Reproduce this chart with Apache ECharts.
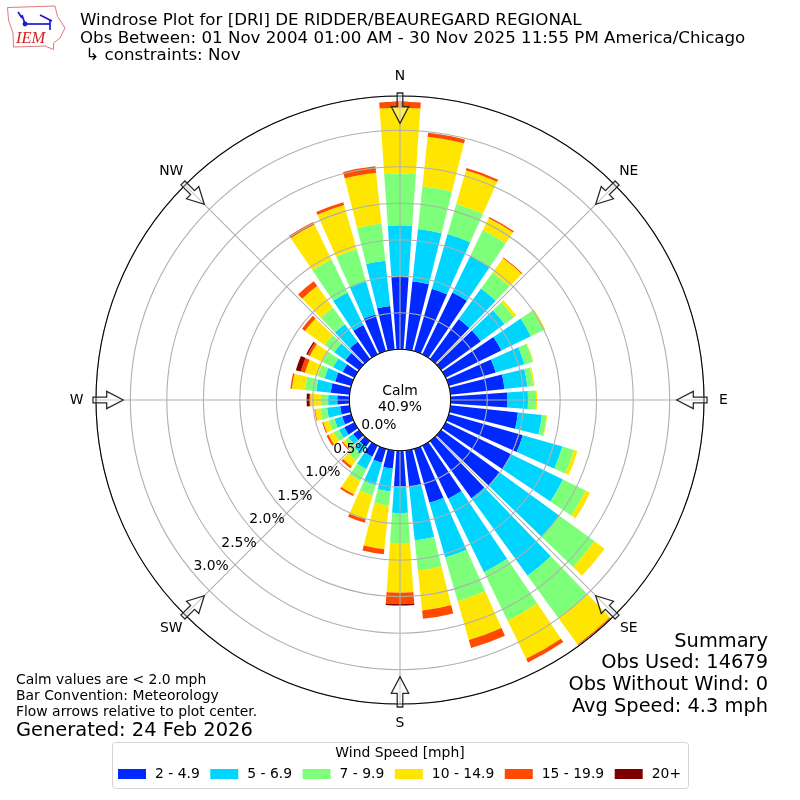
<!DOCTYPE html>
<html><head><meta charset="utf-8">
<style>html,body{margin:0;padding:0;background:#fff}#c{width:800px;height:800px}</style>
<script src="https://cdn.jsdelivr.net/npm/echarts@6/dist/echarts.min.js"></script>
</head><body><div id="c"></div>
<script>
const directions = [0,10,20,30,40,50,60,70,80,90,100,110,120,130,140,150,160,170,180,190,200,210,220,230,240,250,260,270,280,290,300,310,320,330,340,350];
const speed2to5 = [.99,.94,.89,.945,.675,.675,.85,.67,.745,.78,.93,1.055,1.0,.99,.97,.81,.77,.5,.49,.25,.2,.17,.1,.1,.155,.13,.13,.165,.26,.23,.18,.23,.29,.45,.525,.6];
const speed5to7 = [.71,.72,.78,.56,.52,.4,.45,.41,.315,.28,.33,.565,.79,1.01,1.31,1.12,.78,.74,.365,.315,.32,.19,.11,.08,.08,.11,.18,.125,.2,.15,.145,.19,.3,.495,.47,.625];
const speed7to10 = [.71,.59,.43,.39,.27,.16,.195,.12,.08,.11,.065,.165,.345,.6,.72,.74,.625,.415,.41,.195,.145,.18,.12,.055,.08,.08,.095,.1,.155,.1,.165,.165,.28,.505,.46,.51];
const speed10to15 = [.9,.68,.48,.18,.24,.04,.025,.01,.02,.015,.01,.05,.07,.17,.445,.58,.55,.55,.68,.6,.345,.205,.1,.04,.08,.08,.07,.145,.18,.18,.19,.33,.365,.53,.63,.7];
const speed15to20 = [.08,.055,.03,.02,.015,0,0,0,0,0,0,0,0,0,.015,.055,.115,.115,.155,.07,.045,.025,.03,.015,.03,.015,.01,.01,.02,.06,.035,.05,.08,.04,.04,.09];
const speed20plus = [0,0,0,0,0,0,0,0,0,0,0,0,0,0,0,0,0,0,.02,0,0,0,0,0,0,0,0,.04,0,.07,.02,0,0,0,0,0];
const speedNames = ['2 - 4.9','5 - 6.9','7 - 9.9','10 - 14.9','15 - 19.9','20+'];
const speedColors = ['#0029ff','#00d5ff','#7dff7a','#ffe600','#ff4a00','#7f0000'];
const speedValues = [speed2to5,speed5to7,speed7to10,speed10to15,speed15to20,speed20plus];
const compassLabels = ['N','NE','E','SE','S','SW','W','NW'];
const titleLines = ['Windrose Plot for [DRI] DE RIDDER/BEAUREGARD REGIONAL','Obs Between: 01 Nov 2004 01:00 AM - 30 Nov 2025 11:55 PM America/Chicago',' \u21b3 constraints: Nov'];
const summaryLines = ['Summary','Obs Used: 14679','Obs Without Wind: 0','Avg Speed: 4.3 mph'];
const noteLines = ['Calm values are < 2.0 mph','Bar Convention: Meteorology','Flow arrows relative to plot center.'];
const FONT = '"DejaVu Sans", sans-serif';
const CX = 400, CY = 400, R0 = 50.7, R1 = 304, RMAX = 3.47;

const txt = (x,y,text,size,align,extra) => ({type:'text',z:30,style:Object.assign({x,y,text,font:size+'px '+FONT,fill:'#000',textAlign:align||'left',textVerticalAlign:'middle'},extra||{})});

const graphics = [];
titleLines.forEach((t,i)=>graphics.push(txt(80,21+i*17.5,t,16.67)));
summaryLines.forEach((t,i)=>graphics.push(txt(768,641.5+i*21.7,t,19.4,'right')));
noteLines.forEach((t,i)=>graphics.push(txt(16,680.5+i*16,t,13.9)));
graphics.push(txt(16,730.5,'Generated: 24 Feb 2026',19.45));
graphics.push(txt(400,391.5,'Calm',13.9,'center'));
graphics.push(txt(400,407.5,'40.9%',13.9,'center'));
// legend frame and title
graphics.push({type:'rect',z:1,shape:{x:112.5,y:742.5,width:576,height:46,r:3},style:{fill:'#fff',stroke:'#d4d4d4',lineWidth:1}});
graphics.push(txt(400,753,'Wind Speed [mph]',13.9,'center'));
// compass labels and flow arrows
compassLabels.forEach((c,i)=>{
  const a = i*Math.PI/4, ux = Math.sin(a), uy = -Math.cos(a), px = -uy, py = ux;
  const pt = (r,w)=>[CX+ux*r+px*w, CY+uy*r+py*w];
  graphics.push(txt(CX+ux*323.5,CY+uy*323.5,c,13.9,'center'));
  graphics.push({type:'polygon',z:25,shape:{points:[pt(307,-2.8),pt(293.3,-2.8),pt(293.3,-8.7),pt(276.7,0),pt(293.3,8.7),pt(293.3,2.8),pt(307,2.8)]},
    style:{fill:'rgba(255,255,255,0.3)',stroke:'#2b2b2b',lineWidth:1.3}});
});
// IEM logo
graphics.push({type:'polygon',z:20,shape:{points:[[7.5,7.5],[55,6],[57.5,16.5],[65,28],[60,38],[53.5,43],[53.5,49.5],[45,46],[13.5,47],[13,33],[8.5,20]]},style:{fill:'#fff',stroke:'#e07a7a',lineWidth:1}});
[[[25,24],[50,24]],[[22,15],[25,24]],[[40,15],[52,21]],[[50,20],[50,30]],[[18,12],[22,18]]].forEach(p=>{
  graphics.push({type:'polyline',z:21,shape:{points:p},style:{stroke:'#1a1ad0',lineWidth:1.7,fill:null}});
});
graphics.push({type:'circle',z:21,shape:{cx:25,cy:24,r:2.4},style:{fill:'#1a1ad0'}});
graphics.push({type:'text',z:21,style:{x:16,y:38.5,text:'IEM',font:'italic 16.5px "Liberation Serif", serif',fill:'#d62020',textVerticalAlign:'middle'}});

const series = speedNames.map((name,i)=>({
  type:'bar',name,coordinateSystem:'polar',polarIndex:1,stack:'rose',barWidth:'80%',z:2,
  itemStyle:{color:speedColors[i]},data:speedValues[i],silent:true
}));

const option = {
  animation:false,backgroundColor:'#fff',textStyle:{fontFamily:FONT},
  polar:[
    {center:[CX,CY],radius:[R0,R1]},
    {center:[CX,CY],radius:[R0,R1]},
    {center:[CX,CY],radius:[R0,R1]}
  ],
  angleAxis:[
    {polarIndex:0,type:'value',min:0,max:360,interval:45,startAngle:90,clockwise:true,z:10,
      axisLine:{show:true,lineStyle:{color:'#000',width:1.1}},axisTick:{show:false},
      splitLine:{show:true,lineStyle:{color:'#b0b0b0',width:1.1}},axisLabel:{show:false}},
    {polarIndex:1,type:'category',data:directions,startAngle:95,clockwise:true,boundaryGap:true,
      axisLine:{show:false},axisTick:{show:false},axisLabel:{show:false},splitLine:{show:false}},
    {polarIndex:2,type:'value',min:0,max:360,startAngle:220,clockwise:true,
      axisLine:{show:false},axisTick:{show:false},axisLabel:{show:false},splitLine:{show:false}}
  ],
  radiusAxis:[
    {polarIndex:0,type:'value',min:0,max:RMAX,interval:.5,z:10,axisLine:{show:false},axisTick:{show:false},axisLabel:{show:false},
      splitLine:{show:true,lineStyle:{color:'#b0b0b0',width:1.1}}},
    {polarIndex:1,type:'value',min:0,max:RMAX,axisLine:{show:false},axisTick:{show:false},axisLabel:{show:false},splitLine:{show:false}},
    {polarIndex:2,type:'value',min:0,max:RMAX,interval:.5,z:12,axisLine:{show:false},axisTick:{show:false},splitLine:{show:false},
      axisLabel:{show:true,showMaxLabel:false,margin:0,color:'#000',fontSize:13.9,fontFamily:FONT,rotate:0,align:'left',verticalAlign:'bottom',
        formatter:v=>Math.abs(v/0.5-Math.round(v/0.5))<1e-6?v.toFixed(1)+'%':''}}
  ],
  legend:{show:true,z:5,left:118,top:767,orient:'horizontal',itemWidth:28,itemHeight:10,itemGap:10.5,icon:'rect',selectedMode:false,padding:0,
    data:speedNames,textStyle:{fontFamily:FONT,fontSize:13.9,color:'#000',padding:[0,0,0,4]}},
  graphic:{elements:graphics},
  series
};
const chart = echarts.init(document.getElementById('c'),null,{renderer:'canvas'});
chart.setOption(option);
</script></body></html>
